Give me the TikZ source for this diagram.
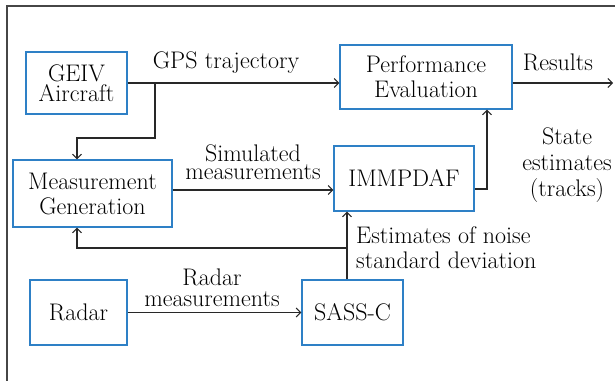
\documentclass[tikz,border=0pt]{standalone}
\usetikzlibrary{arrows.meta}
\definecolor{boxblue}{RGB}{46,128,198}
\definecolor{wire}{RGB}{40,40,40}
\definecolor{frame}{RGB}{70,70,70}
\begin{document}
\begin{tikzpicture}[x=1pt,y=-1pt,
  every node/.style={font=\fontsize{24}{25}\selectfont, inner sep=0pt},
  block/.style={draw=boxblue, line width=1.3pt, align=center},
  lbl/.style={align=center},
  arr/.style={draw=wire, line width=1.2pt, -{Straight Barb[length=4.5pt,width=9pt,line width=1pt]}}]
\useasboundingbox (0,0) rectangle (615,380);
% outer frame (only its left and top sides fall inside the page)
\draw[frame, line width=1.4pt] (7,381) -- (7,6) -- (616,6);

% blocks
\node[block, minimum width=101pt, minimum height=62pt, font=\fontsize{24}{20}\selectfont] (geiv) at (76.5,83) {GEIV\\Aircraft};
\node[block, minimum width=172pt, minimum height=64pt] (pe) at (426,77) {Performance\\Evaluation};
\node[block, minimum width=159pt, minimum height=67pt] (mg) at (92.5,193.5) {Measurement\\Generation};
\node[block, minimum width=140pt, minimum height=65pt] (imm) at (404,178.5) {IMMPDAF};
\node[block, minimum width=97pt, minimum height=65pt] (radar) at (78.5,312.5) {Radar};
\node[block, minimum width=101pt, minimum height=65pt] (sass) at (352.5,312.5) {SASS-C};

% routing points
\coordinate (gps) at (155,83);
\coordinate (gbend) at (155,138);
\coordinate (mgin) at (77,138);
\coordinate (res) at (613,83);
\coordinate (sim) at (0,190);
\coordinate (trk) at (487,189);
\coordinate (nsd) at (347,248);
\coordinate (nsdl) at (77,248);

% connectors
\draw[arr] (geiv.east |- gps) -- (gps -| pe.west);
\draw[arr] (gps) -- (gbend) -- (mgin) -- (mgin |- mg.north);
\draw[arr] (pe.east |- res) -- (res);
\draw[arr] (mg.east |- sim) -- (imm.west |- sim);
\draw[arr] (imm.east |- trk) -- (trk) -- (trk |- pe.south);
\draw[arr] (sass.north -| nsd) -- (imm.south -| nsd);
\draw[arr] (nsd) -- (nsdl) -- (nsdl |- mg.south);
\draw[arr] (radar) -- (sass);

% connector labels
\node[lbl] (lgps) at (226,63) {GPS trajectory};
\node[lbl] (lres) at (558,62) {Results};
\node[lbl, font=\fontsize{24}{18}\selectfont] (lsim) at (253,162) {Simulated\\measurements};
\node[lbl, font=\fontsize{24}{26}\selectfont] (lstate) at (567,165) {State\\estimates\\(tracks)};
\node[lbl, align=left, anchor=west] (lnoise) at (356,248) {Estimates of noise\\standard deviation};
\node[lbl, font=\fontsize{24}{21}\selectfont] (lradar) at (212,288) {Radar\\measurements};
\end{tikzpicture}
\end{document}
